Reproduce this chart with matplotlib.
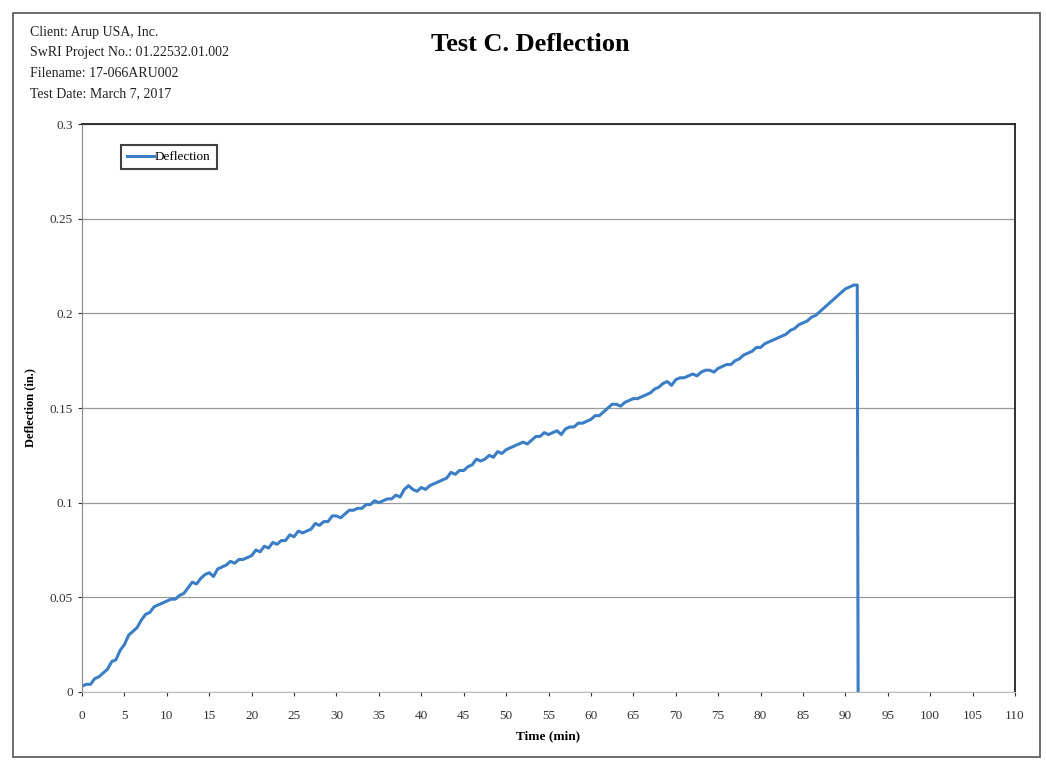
import numpy as np
import matplotlib
matplotlib.use('Agg')
import matplotlib.pyplot as plt
from matplotlib.patches import Rectangle

plt.rcParams['font.family'] = ['Liberation Serif', 'DejaVu Serif']

# Header info
header_lines = ['Client: Arup USA, Inc.',
                'SwRI Project No.: 01.22532.01.002',
                'Filename: 17-066ARU002',
                'Test Date: March 7, 2017']

# Deflection (in) read every 0.5 min from 0 to 91 min, then the drop at end of test
defl = [0.003, 0.004, 0.004, 0.007, 0.008, 0.010, 0.012, 0.016, 0.017, 0.022,
        0.025, 0.030, 0.032, 0.034, 0.038, 0.041, 0.042, 0.045, 0.046, 0.047,
        0.048, 0.049, 0.049, 0.051, 0.052, 0.055, 0.058, 0.057, 0.060, 0.062,
        0.063, 0.061, 0.065, 0.066, 0.067, 0.069, 0.068, 0.070, 0.070, 0.071,
        0.072, 0.075, 0.074, 0.077, 0.076, 0.079, 0.078, 0.080, 0.080, 0.083,
        0.082, 0.085, 0.084, 0.085, 0.086, 0.089, 0.088, 0.090, 0.090, 0.093,
        0.093, 0.092, 0.094, 0.096, 0.096, 0.097, 0.097, 0.099, 0.099, 0.101,
        0.100, 0.101, 0.102, 0.102, 0.104, 0.103, 0.107, 0.109, 0.107, 0.106,
        0.108, 0.107, 0.109, 0.110, 0.111, 0.112, 0.113, 0.116, 0.115, 0.117,
        0.117, 0.119, 0.120, 0.123, 0.122, 0.123, 0.125, 0.124, 0.127, 0.126,
        0.128, 0.129, 0.130, 0.131, 0.132, 0.131, 0.133, 0.135, 0.135, 0.137,
        0.136, 0.137, 0.138, 0.136, 0.139, 0.140, 0.140, 0.142, 0.142, 0.143,
        0.144, 0.146, 0.146, 0.148, 0.150, 0.152, 0.152, 0.151, 0.153, 0.154,
        0.155, 0.155, 0.156, 0.157, 0.158, 0.160, 0.161, 0.163, 0.164, 0.162,
        0.165, 0.166, 0.166, 0.167, 0.168, 0.167, 0.169, 0.170, 0.170, 0.169,
        0.171, 0.172, 0.173, 0.173, 0.175, 0.176, 0.178, 0.179, 0.180, 0.182,
        0.182, 0.184, 0.185, 0.186, 0.187, 0.188, 0.189, 0.191, 0.192, 0.194,
        0.195, 0.196, 0.198, 0.199, 0.201, 0.203, 0.205, 0.207, 0.209, 0.211,
        0.213, 0.214, 0.215]
end_time = [91.4, 91.5]
end_defl = [0.215, 0.0]

time = list(np.arange(len(defl)) * 0.5) + end_time
defl = defl + end_defl

x_ticks = list(range(0, 111, 5))
y_ticks = [0, 0.05, 0.1, 0.15, 0.2, 0.25, 0.3]
y_tick_labels = ['0', '0.05', '0.1', '0.15', '0.2', '0.25', '0.3']

fig = plt.figure(figsize=(10.46, 7.62), dpi=100)
ax = fig.add_axes([0.0784, 0.092, 0.892, 0.745])

ax.plot(time, defl, color='#3b7ec6', lw=2.2, label='Deflection')

ax.set_xlim(0, 110)
ax.set_ylim(0, 0.3)
ax.set_xticks(x_ticks)
ax.set_yticks(y_ticks)
ax.set_yticklabels(y_tick_labels)
ax.tick_params(axis='both', labelsize=9.5, colors='#333333', length=3, width=0.8)
ax.tick_params(axis='x', pad=10)
ax.grid(axis='y', color='#9a9a9a', lw=0.9)
ax.set_axisbelow(True)

for s in ['top', 'right']:
    ax.spines[s].set_color('#222222')
    ax.spines[s].set_linewidth(1.3)
ax.spines['left'].set_color('#888888')
ax.spines['bottom'].set_color('#bbbbbb')

ax.set_xlabel('Time (min)', fontsize=9.5, fontweight='bold', labelpad=6)
ax.set_ylabel('Deflection (in.)', fontsize=9, fontweight='bold', labelpad=10)

leg = ax.legend(loc='upper left', bbox_to_anchor=(0.035, 0.975), fontsize=9.5,
                frameon=True, fancybox=False, handlelength=2.0, handletextpad=0.1,
                borderpad=0.45)
leg.get_frame().set_edgecolor('#111111')
leg.get_frame().set_linewidth(1.5)

# Header text and title
for i, line in enumerate(header_lines):
    fig.text(0.029, 0.957 - i * 0.0265, line, fontsize=10, va='center', ha='left',
             color='#222222')
fig.text(0.507, 0.942, 'Test C. Deflection', fontsize=19, fontweight='bold',
         ha='center', va='center')

# outer page frame
fig.patches.append(Rectangle((0.012, 0.007), 0.982, 0.976, transform=fig.transFigure,
                             fill=False, edgecolor='#555555', lw=1.2))

fig.savefig('out.png', dpi=100)
